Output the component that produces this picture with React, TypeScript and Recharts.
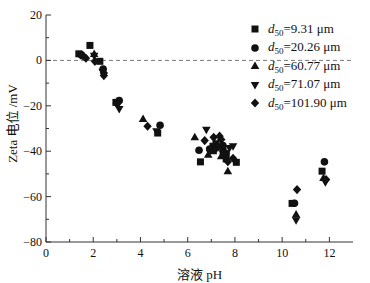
import { ScatterChart, Scatter, XAxis, YAxis, ReferenceLine } from "recharts";

// pH vs zeta potential, one array per particle size
const d931 = [
  { ph: 1.39, zeta: 2.9 }, { ph: 1.86, zeta: 6.6 }, { ph: 2.28, zeta: -0.4 },
  { ph: 2.96, zeta: -18.5 }, { ph: 4.73, zeta: -32 }, { ph: 6.54, zeta: -44.7 },
  { ph: 7.07, zeta: -37.8 }, { ph: 7.2, zeta: -36.7 }, { ph: 7.5, zeta: -40 },
  { ph: 7.63, zeta: -43.4 }, { ph: 8.06, zeta: -44.9 }, { ph: 10.42, zeta: -63 },
  { ph: 11.69, zeta: -48.8 },
];
const d2026 = [
  { ph: 1.5, zeta: 2.4 }, { ph: 2.42, zeta: -3.8 }, { ph: 3.1, zeta: -17.7 },
  { ph: 4.83, zeta: -28.6 }, { ph: 6.48, zeta: -39.6 }, { ph: 6.93, zeta: -39 },
  { ph: 7.49, zeta: -37.5 }, { ph: 7.63, zeta: -41 }, { ph: 10.52, zeta: -62.9 },
  { ph: 11.79, zeta: -44.7 },
];
const d6077 = [
  { ph: 1.6, zeta: 1.8 }, { ph: 2.04, zeta: 2.8 }, { ph: 4.11, zeta: -25.8 },
  { ph: 6.3, zeta: -33.9 }, { ph: 6.87, zeta: -41.6 }, { ph: 7.07, zeta: -40 },
  { ph: 7.42, zeta: -42.2 }, { ph: 7.5, zeta: -39 }, { ph: 7.7, zeta: -48.8 },
  { ph: 10.59, zeta: -67.9 }, { ph: 11.75, zeta: -51.8 },
];
const d7107 = [
  { ph: 2.04, zeta: 2 }, { ph: 2.4, zeta: -5 }, { ph: 3.05, zeta: -19.5 },
  { ph: 3.1, zeta: -21.4 }, { ph: 4.68, zeta: -31.2 }, { ph: 6.79, zeta: -30.5 },
  { ph: 7.2, zeta: -39.3 }, { ph: 7.55, zeta: -41 }, { ph: 7.77, zeta: -38.6 },
  { ph: 7.92, zeta: -37.8 }, { ph: 10.59, zeta: -70.4 }, { ph: 11.83, zeta: -53.7 },
];
const d10190 = [
  { ph: 1.55, zeta: 2.2 }, { ph: 1.69, zeta: 1 }, { ph: 2.07, zeta: -0.4 },
  { ph: 2.45, zeta: -5.5 }, { ph: 2.45, zeta: -6.7 }, { ph: 3.0, zeta: -19 },
  { ph: 4.3, zeta: -29 }, { ph: 6.72, zeta: -35.3 }, { ph: 7.1, zeta: -33.9 },
  { ph: 7.3, zeta: -38 }, { ph: 7.35, zeta: -33.4 }, { ph: 7.42, zeta: -34.9 },
  { ph: 7.7, zeta: -44.6 }, { ph: 7.92, zeta: -43.1 }, { ph: 10.63, zeta: -56.9 },
  { ph: 11.86, zeta: -52.5 },
];

const sizeLabels = ["9.31", "20.26", "60.77", "71.07", "101.90"];
const xTicks = [0, 1, 2, 3, 4, 5, 6, 7, 8, 9, 10, 11, 12];
const yTicks = [-80, -70, -60, -50, -40, -30, -20, -10, 0, 10, 20];

const FONT = '"Liberation Serif", "Times New Roman", "Noto Sans CJK SC", serif';
const INK = "#111";
const AXIS = "#333";

type Kind = "square" | "circle" | "up" | "down" | "diamond";
const kinds: Kind[] = ["square", "circle", "up", "down", "diamond"];

function Marker({ kind, cx, cy }: { kind: Kind; cx: number; cy: number }) {
  switch (kind) {
    case "square":
      return <rect x={cx - 3.5} y={cy - 3.5} width={7} height={7} fill={INK} />;
    case "circle":
      return <circle cx={cx} cy={cy} r={3.8} fill={INK} />;
    case "up":
      return <polygon points={`${cx},${cy - 4.5} ${cx + 4.3},${cy + 3} ${cx - 4.3},${cy + 3}`} fill={INK} />;
    case "down":
      return <polygon points={`${cx},${cy + 4.5} ${cx + 4.3},${cy - 3} ${cx - 4.3},${cy - 3}`} fill={INK} />;
    default:
      return <polygon points={`${cx},${cy - 4.6} ${cx + 4.2},${cy} ${cx},${cy + 4.6} ${cx - 4.2},${cy}`} fill={INK} />;
  }
}

const shapeFor = (kind: Kind) => (p: any) => <Marker kind={kind} cx={p.cx} cy={p.cy} />;

function XTick({ x, y, payload }: any) {
  const major = payload.value % 2 === 0;
  return (
    <g>
      <line x1={x} x2={x} y1={y} y2={y - (major ? 5 : 3)} stroke={AXIS} />
      {major && (
        <text x={x} y={y + 15} textAnchor="middle" fontSize={12} fontFamily={FONT} fill={INK}>
          {payload.value}
        </text>
      )}
    </g>
  );
}

function YTick({ x, y, payload }: any) {
  const major = payload.value % 20 === 0;
  const v = payload.value < 0 ? `\u2212${Math.abs(payload.value)}` : `${payload.value}`;
  return (
    <g>
      <line x1={x} x2={x + (major ? 5 : 3)} y1={y} y2={y} stroke={AXIS} />
      {major && (
        <text x={x - 4} y={y + 4} textAnchor="end" fontSize={12} fontFamily={FONT} fill={INK}>
          {v}
        </text>
      )}
    </g>
  );
}

function LegendIcon({ kind }: { kind: Kind }) {
  return (
    <svg width={10} height={10} style={{ display: "block" }}>
      <Marker kind={kind} cx={5} cy={5} />
    </svg>
  );
}

export default function App() {
  const series = [d931, d2026, d6077, d7107, d10190];
  return (
    <div style={{ position: "absolute", left: 0, top: 0, width: 370, height: 283, background: "#fff" }}>
      <ScatterChart width={370} height={283} margin={{ top: 15, right: 17, left: 0, bottom: 0 }}>
        <XAxis
          type="number"
          dataKey="ph"
          domain={[0, 13]}
          ticks={xTicks}
          interval={0}
          height={41}
          stroke={AXIS}
          tickSize={0}
          tickMargin={0}
          tick={<XTick />}
          label={{
            content: ({ viewBox }: any) => (
              <text
                x={viewBox.x + viewBox.width / 2}
                y={viewBox.y + 37}
                textAnchor="middle"
                fontSize={13}
                fontFamily={FONT}
                fill={INK}
              >
                溶液 pH
              </text>
            ),
          }}
        />
        <YAxis
          type="number"
          dataKey="zeta"
          domain={[-80, 20]}
          ticks={yTicks}
          interval={0}
          width={46}
          stroke={AXIS}
          tickSize={0}
          tickMargin={0}
          tick={<YTick />}
          label={{
            content: ({ viewBox }: any) => {
              const cx = 12;
              const cy = viewBox.y + viewBox.height / 2 - 5;
              return (
                <text
                  x={cx}
                  y={cy}
                  transform={`rotate(-90 ${cx} ${cy})`}
                  textAnchor="middle"
                  dominantBaseline="central"
                  fontSize={13}
                  fontFamily={FONT}
                  fill={INK}
                >
                  Zeta 电位 /mV
                </text>
              );
            },
          }}
        />
        <ReferenceLine y={0} stroke="#777" strokeDasharray="4 3" />
        {series.map((data, i) => (
          <Scatter
            key={sizeLabels[i]}
            data={data}
            shape={shapeFor(kinds[i])}
            isAnimationActive={false}
          />
        ))}
      </ScatterChart>
      <div style={{ position: "absolute", left: 250, top: 20, fontFamily: FONT, fontSize: 13, color: INK }}>
        {sizeLabels.map((s, i) => (
          <div key={s} style={{ display: "flex", alignItems: "center", height: 18.5 }}>
            <LegendIcon kind={kinds[i]} />
            <span style={{ marginLeft: 8, whiteSpace: "nowrap" }}>
              <i>d</i>
              <sub style={{ fontSize: 9, verticalAlign: "-3px" }}>50</sub>={s} μm
            </span>
          </div>
        ))}
      </div>
    </div>
  );
}
